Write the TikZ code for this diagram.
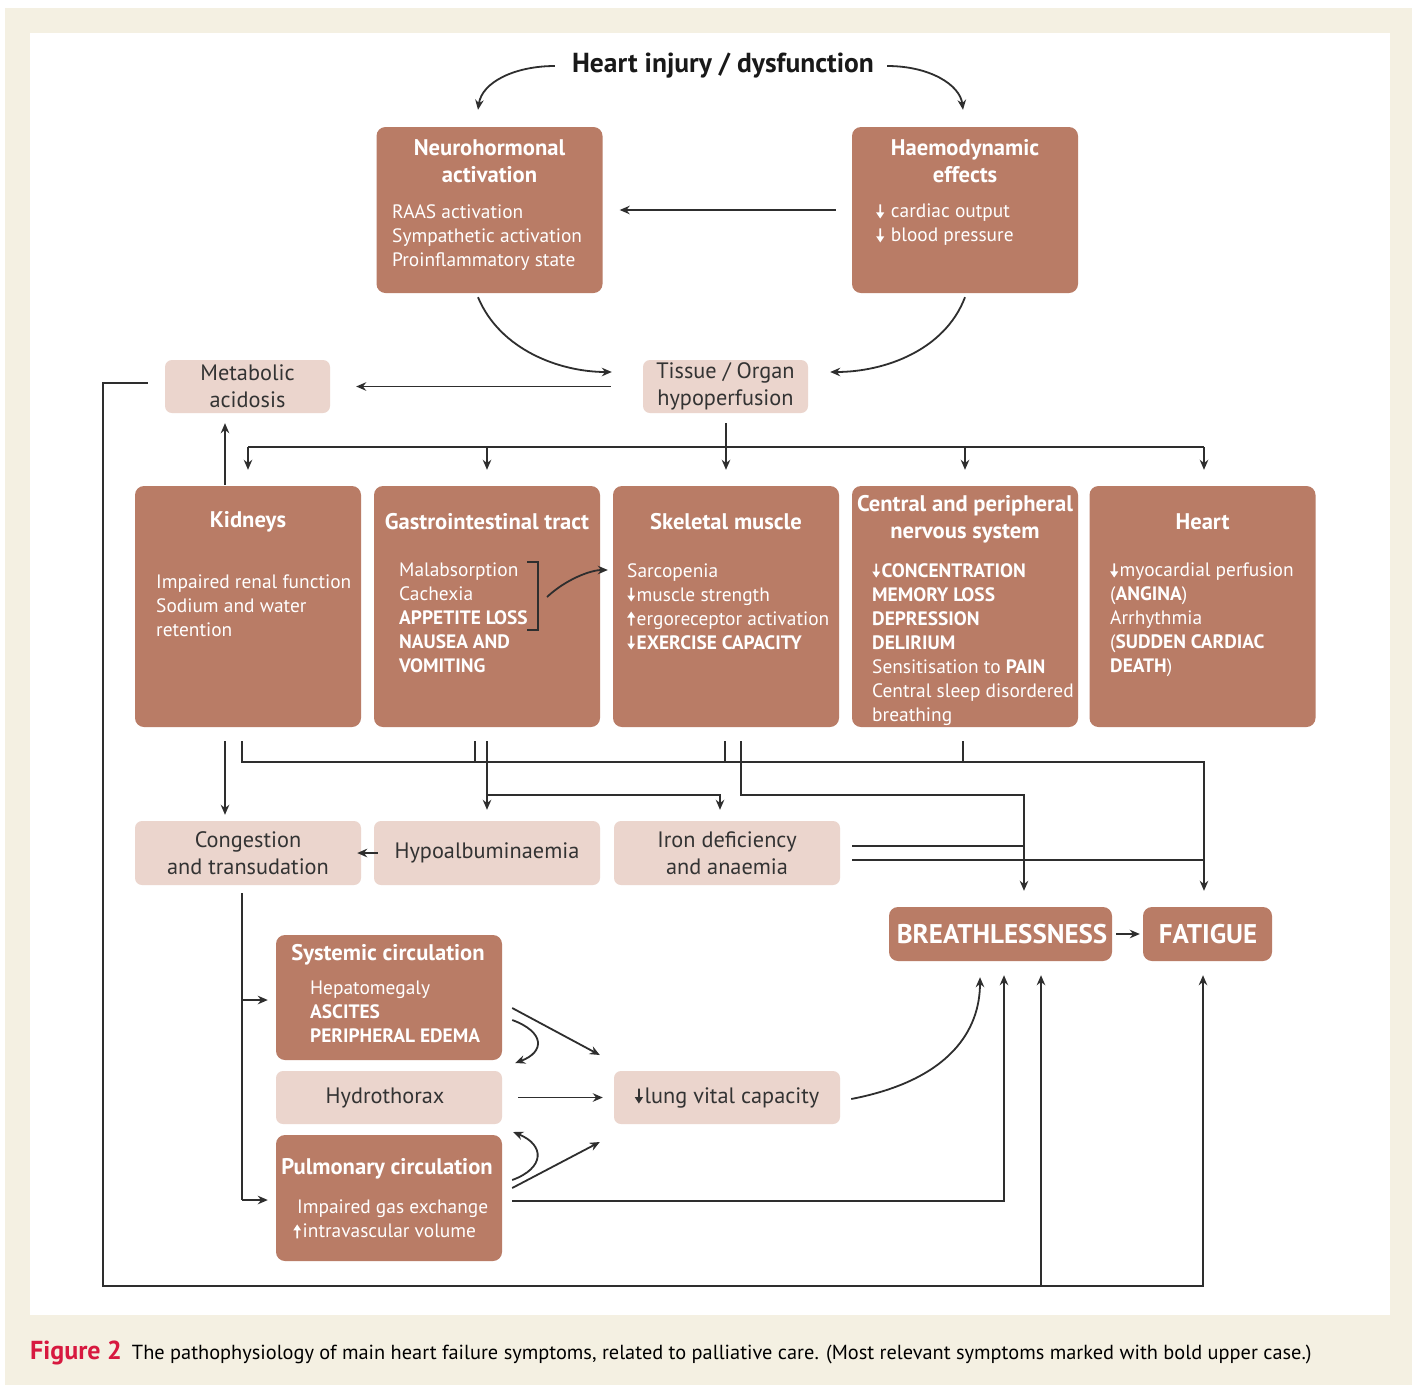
\documentclass[tikz,border=0pt]{standalone}
\usepackage{fontspec}
\setmainfont{PT Sans}
\usetikzlibrary{arrows.meta}
\definecolor{boxdark}{HTML}{B97C66}
\definecolor{boxlight}{HTML}{EBD5CD}
\definecolor{beige}{HTML}{F4F0E2}
\definecolor{linec}{HTML}{2E2E2E}
\definecolor{figred}{HTML}{D7193F}
\definecolor{ltext}{HTML}{333333}
\newcommand{\dnA}{\tikz[baseline=0pt,sharp corners]\fill[white,sharp corners] (0.7pt,13.5pt) -- (0.7pt,5.5pt) -- (-2.4pt,5.5pt) -- (1.6pt,-0.5pt) -- (5.6pt,5.5pt) -- (2.5pt,5.5pt) -- (2.5pt,13.5pt) -- cycle;\hspace{1.5pt}}
\newcommand{\upA}{\tikz[baseline=0pt,sharp corners]\fill[white,sharp corners] (0.7pt,-0.5pt) -- (0.7pt,7.5pt) -- (-2.4pt,7.5pt) -- (1.6pt,13.5pt) -- (5.6pt,7.5pt) -- (2.5pt,7.5pt) -- (2.5pt,-0.5pt) -- cycle;\hspace{1.5pt}}
\newcommand{\dnD}{\tikz[baseline=0pt,sharp corners]\fill[ltext,sharp corners] (0.7pt,14.5pt) -- (0.7pt,6pt) -- (-2.6pt,6pt) -- (1.6pt,-0.5pt) -- (5.8pt,6pt) -- (2.5pt,6pt) -- (2.5pt,14.5pt) -- cycle;\hspace{1.5pt}}
\begin{document}
\begin{tikzpicture}[x=1pt,y=-1pt,
  dark/.style={fill=boxdark, rounded corners=9pt, inner sep=0pt, minimum width=226pt},
  light/.style={fill=boxlight, rounded corners=7pt, inner sep=0pt, text=ltext, align=center, font=\fontsize{22.3}{27}\selectfont, minimum width=226pt},
  ttl/.style={text=white, font=\fontsize{22.6}{27}\selectfont\bfseries, align=center, inner sep=0pt},
  body/.style={text=white, font=\fontsize{19.4}{24}\selectfont, align=left, anchor=north west, inner sep=0pt},
  big/.style={text=white, font=\fontsize{27}{30}\selectfont\bfseries, align=center},
  line/.style={draw=linec, line width=1.8pt},
  arr/.style={line, -{Stealth[length=10pt,width=8.5pt]}}
]
\useasboundingbox (0,0) rectangle (1416,1385);
\fill[white] (0,0) rectangle (1416,1385);
\fill[beige] (5,8) rectangle (1412,1385);
\fill[white] (30,33) rectangle (1390,1315);

% ---------- top ----------
\node[font=\fontsize{27.5}{30}\selectfont\bfseries, text=black!90, inner sep=0pt] (title) at (723,66) {Heart injury / dysfunction};

\node[dark, minimum height=166pt] (neuro) at (489.5,210) {};
\node[ttl] (neuroT) at (489.5,161.5) {Neurohormonal\\activation};
\node[body] (neuroB) at (392,204) {RAAS activation\\Sympathetic activation\\Proinflammatory state};

\node[dark, minimum height=166pt] (haemo) at (965,210) {};
\node[ttl] (haemoT) at (965,161.5) {Haemodynamic\\effects};
\node[body] (haemoB) at (876,204) {\dnA\ cardiac output\\\dnA\ blood pressure};

\node[light, minimum width=165pt, minimum height=53pt] (tissue) at (725.5,386.5) {Tissue / Organ\\hypoperfusion};
\node[light, minimum width=165pt, minimum height=53pt] (metab) at (247.5,386.5) {Metabolic\\acidosis};

% ---------- organ row ----------
\node[dark, minimum height=241pt] (kid) at (248,606.5) {};
\node[ttl] (kidT) at (248,522) {Kidneys};
\node[body] (kidB) at (156,575) {Impaired renal function\\Sodium and water\\retention};

\node[dark, minimum height=241pt] (gi) at (487,606.5) {};
\node[ttl] (giT) at (487,522) {Gastrointestinal tract};
\node[body] (giB) at (399,563) {Malabsorption\\Cachexia\\\textbf{APPETITE LOSS}\\\textbf{NAUSEA AND}\\\textbf{VOMITING}};

\node[dark, minimum height=241pt] (skel) at (726,606.5) {};
\node[ttl] (skelT) at (726,522) {Skeletal muscle};
\node[body] (skelB) at (627,563) {Sarcopenia\\\dnA muscle strength\\\upA ergoreceptor activation\\\dnA\textbf{EXERCISE CAPACITY}};

\node[dark, minimum height=241pt] (cns) at (965,606.5) {};
\node[ttl] (cnsT) at (965,519) {Central and peripheral\\nervous system};
\node[body] (cnsB) at (872,563) {\dnA\textbf{CONCENTRATION}\\\textbf{MEMORY LOSS}\\\textbf{DEPRESSION}\\\textbf{DELIRIUM}\\Sensitisation to \textbf{PAIN}\\Central sleep disordered\\breathing};

\node[dark, minimum height=241pt] (heart) at (1202.5,606.5) {};
\node[ttl] (heartT) at (1202.5,522) {Heart};
\node[body] (heartB) at (1110,563) {\dnA myocardial perfusion\\(\textbf{ANGINA})\\Arrhythmia\\(\textbf{SUDDEN CARDIAC}\\\textbf{DEATH})};

% ---------- second row ----------
\node[light, minimum height=64pt] (cong) at (248,853) {Congestion\\and transudation};
\node[light, minimum height=64pt] (hypo) at (487,853) {Hypoalbuminaemia};
\node[light, minimum height=64pt] (iron) at (727,853) {Iron deficiency\\and anaemia};

% ---------- lower part ----------
\node[dark, minimum height=125pt] (sys) at (389,997.5) {};
\node[ttl] (sysT) at (388,955) {Systemic circulation};
\node[body] (sysB) at (310,981) {Hepatomegaly\\\textbf{ASCITES}\\\textbf{PERIPHERAL EDEMA}};

\node[light, minimum height=53pt] (hydro) at (389,1097.5) {\hspace{-8pt}Hydrothorax};

\node[dark, minimum height=126pt] (pulm) at (389,1198) {};
\node[ttl] (pulmT) at (387,1169) {Pulmonary circulation};
\node[body] (pulmB) at (293,1200) {\hspace{4pt}Impaired gas exchange\\\upA intravascular volume};

\node[light, minimum height=53pt] (lung) at (727,1097.5) {\dnD lung vital capacity};

\node[dark, minimum width=223pt, minimum height=54pt] (breath) at (1000.5,934) {};
\node[big] (breathT) at (1002,934) {BREATHLESSNESS};
\node[dark, minimum width=129pt, minimum height=54pt] (fat) at (1207.5,934) {};
\node[big] (fatT) at (1208,934) {FATIGUE};

% ---------- caption ----------
\node[anchor=base west, inner sep=0pt, font=\fontsize{20.35}{24}\selectfont] (cap) at (30,1359)
  {{\color{figred}\fontsize{26}{26}\selectfont\bfseries Figure 2}\hspace{10pt}The pathophysiology of main heart failure symptoms, related to palliative care. (Most relevant symptoms marked with bold upper case.)};

% ---------- connectors ----------
% top curves
\draw[arr] ([xshift=-17pt]title.west) .. controls (515,66) and (482,82) .. ([shift={(-11.5,-17)}]neuro.north);
\draw[arr] ([xshift=13pt]title.east) .. controls (930,66) and (960,85) .. ([shift={(-2,-17)}]haemo.north);
\draw[arr] ([xshift=-16pt]haemo.west) -- ([xshift=17pt]neuro.east);
\draw[arr] ([shift={(-11.5,4)}]neuro.south) .. controls (500,350) and (560,372) .. ([shift={(-31,-14.5)}]tissue.west);
\draw[arr] ([shift={(0,4)}]haemo.south) .. controls (945,350) and (885,372) .. ([shift={(22,-14.5)}]tissue.east);
\draw[arr] ([xshift=-32pt]tissue.west) -- ([xshift=26pt]metab.east);

% outer loop
\coordinate (jB) at (1041,1286);
\draw[arr] ([shift={(-17,-3.5)}]metab.west) -- (103,383) -- (103,1286) -- (1203,1286) -- ([shift={(-4.5,14)}]fat.south);
\draw[arr] (jB) -- ([shift={(40.5,14)}]breath.south);

% distribution bar
\coordinate (barL) at (248,447);
\coordinate (barR) at (1204,447);
\draw[line] (barL) -- (barR);
\draw[arr] ([shift={(0.5,10)}]tissue.south) -- ([yshift=16pt]skel.north);
\draw[arr] (barL) -- ([yshift=16pt]kid.north);
\draw[arr] (487,447) -- ([yshift=16pt]gi.north);
\draw[arr] (965,447) -- ([yshift=16pt]cns.north);
\draw[arr] (barR) -- ([shift={(1.5,-16)}]heart.north);
\draw[arr] ([shift={(-23,-1)}]kid.north) -- ([shift={(-22.5,10)}]metab.south);

% below organ row
\draw[arr] ([shift={(-23,14)}]kid.south) -- ([shift={(-23,-6)}]cong.north);
\draw[arr] ([shift={(-6,14)}]kid.south) -- (242,762) -- (1204,762) -- ([shift={(-3.5,-16)}]fat.north);
\draw[line] ([shift={(-12,14)}]gi.south) -- (475,762);
\draw[line] ([shift={(-1,14)}]skel.south) -- (725,762);
\draw[line] ([shift={(-2,14)}]cns.south) -- (963,762);
\draw[arr] ([shift={(0,14)}]gi.south) -- ([yshift=11pt]hypo.north);
\draw[arr] (487,795) -- (720,795) -- ([shift={(-7,-11)}]iron.north);
\draw[arr] ([shift={(15,14)}]skel.south) -- (741,795) -- (1024,795) -- ([shift={(23.5,-16)}]breath.north);
\draw[line] ([shift={(12,-7)}]iron.east) -- (1024,846);
\draw[line] ([shift={(12,7)}]iron.east) -- (1204,860);
\draw[arr] ([xshift=4pt]hypo.west) -- ([xshift=-4pt]cong.east);

% GI bracket
\coordinate (brT) at (538,562);
\coordinate (brB) at (538,630);
\draw[draw=linec, line width=1.5pt] (527,562) -- (brT) -- (brB) -- (527,630);
\draw[arr] (547,597) .. controls (565,580) and (590,570) .. ([shift={(-5,-36.5)}]skel.west);

% congestion to circulations
\draw[line] ([shift={(-6,8)}]cong.south) -- (242,1200);
\draw[arr] (242,1000) -- ([shift={(-8,2.5)}]sys.west);
\draw[arr] (242,1200) -- ([shift={(-8,2)}]pulm.west);

% to lung and hydrothorax
\draw[arr] ([shift={(10,10.5)}]sys.east) -- ([shift={(-14,-42.5)}]lung.west);
\draw[arr] ([shift={(10,22.5)}]sys.east) .. controls (545,1032) and (545,1052) .. ([shift={(13,-34.5)}]hydro.east);
\draw[arr] ([shift={(16,0)}]hydro.east) -- ([shift={(-11,0)}]lung.west);
\draw[arr] ([shift={(10,-18)}]pulm.east) .. controls (545,1168) and (545,1145) .. ([shift={(11,34.5)}]hydro.east);
\draw[arr] ([shift={(10,-10)}]pulm.east) -- ([shift={(-14,44.5)}]lung.west);
\draw[arr] ([shift={(10,3)}]pulm.east) -- (1004,1201) -- ([shift={(3.5,14)}]breath.south);
\draw[arr] ([shift={(11,1.5)}]lung.east) .. controls (950,1080) and (980,1030) .. ([shift={(-20.5,16)}]breath.south);
\draw[arr] ([xshift=4pt]breath.east) -- ([xshift=-3pt]fat.west);
\end{tikzpicture}
\end{document}
